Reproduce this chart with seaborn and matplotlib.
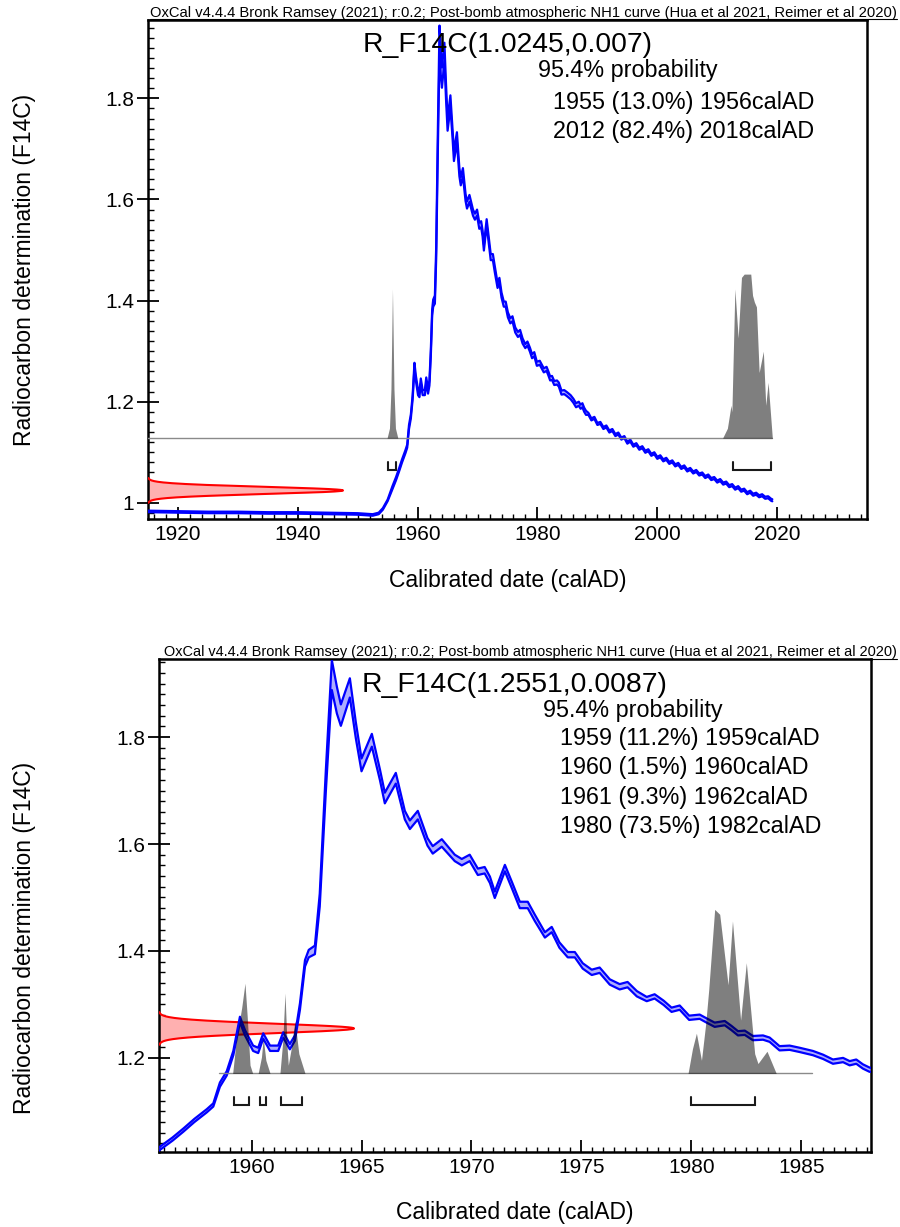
import numpy as np
import pandas as pd
import matplotlib
matplotlib.use("Agg")
import matplotlib.pyplot as plt
import matplotlib.transforms as mtransforms
from matplotlib.ticker import MultipleLocator, FuncFormatter
import seaborn as sns

# ---------------- data ----------------
# calibration curve (Post-bomb NH1), segments
seg_a_year = [1915.0, 1920.0, 1925.0, 1930.0, 1935.0, 1940.0, 1945.0, 1950.0, 1952.5, 1953.5, 1954.2, 1955.0]
seg_a_f14c = [0.983, 0.982, 0.981, 0.981, 0.980, 0.980, 0.979, 0.978, 0.976, 0.979, 0.988, 1.005]
seg_a_sig = [0.0015] * 12

seg_b_year = [1955.8, 1956.4, 1956.9, 1957.4, 1957.96, 1958.26, 1958.56, 1958.87, 1959.17, 1959.47, 1959.7,
              1960.07, 1960.3, 1960.53, 1960.84, 1961.21, 1961.44, 1961.74, 1961.97, 1962.2, 1962.43, 1962.6, 1962.88]
seg_b_f14c = [1.030, 1.048, 1.065, 1.083, 1.101, 1.112, 1.150, 1.171, 1.209, 1.272, 1.247,
              1.218, 1.214, 1.241, 1.218, 1.218, 1.243, 1.221, 1.237, 1.296, 1.377, 1.395, 1.402]
seg_b_sig = [0.003, 0.003, 0.003, 0.003, 0.003, 0.003, 0.004, 0.004, 0.004, 0.005, 0.005,
             0.005, 0.005, 0.005, 0.005, 0.005, 0.005, 0.005, 0.005, 0.006, 0.006, 0.007, 0.008]

seg_c_year = [1963.1, 1963.38, 1963.65, 1963.88, 1964.06, 1964.47, 1964.74, 1965.0, 1965.47, 1965.84,
              1966.06, 1966.56, 1966.97, 1967.2, 1967.56, 1968.0, 1968.24, 1968.65]
seg_c_f14c = [1.495, 1.720, 1.916, 1.869, 1.841, 1.892, 1.813, 1.748, 1.794, 1.729,
              1.686, 1.723, 1.654, 1.636, 1.654, 1.604, 1.589, 1.602]
seg_c_sig = [0.012, 0.020, 0.028, 0.025, 0.020, 0.018, 0.015, 0.012, 0.012, 0.010,
             0.010, 0.010, 0.008, 0.008, 0.008, 0.007, 0.007, 0.007]

seg_d_year = [1969.24, 1969.56, 1969.92, 1970.29, 1970.6, 1970.84, 1971.06, 1971.52, 1971.84, 1972.2,
              1972.56, 1972.88, 1973.34, 1973.65, 1974.0, 1974.38, 1974.7, 1975.06, 1975.47, 1975.83,
              1976.29, 1976.74, 1977.1, 1977.52, 1977.97, 1978.33, 1978.74, 1979.1, 1979.47, 1979.9,
              1980.38, 1980.69, 1981.06, 1981.52, 1981.82, 1982.12, 1982.43, 1982.8, 1983.26, 1983.56,
              1984.01, 1984.47, 1984.92, 1985.53, 1985.99, 1986.44, 1986.9, 1987.2, 1987.5, 1987.8, 1988.1]
seg_d_f14c = [1.574, 1.566, 1.574, 1.548, 1.551, 1.533, 1.505, 1.555, 1.523, 1.486,
              1.486, 1.462, 1.430, 1.440, 1.411, 1.393, 1.393, 1.372, 1.360, 1.364,
              1.342, 1.333, 1.337, 1.320, 1.310, 1.315, 1.303, 1.290, 1.294, 1.275,
              1.277, 1.270, 1.262, 1.265, 1.256, 1.246, 1.247, 1.237, 1.238, 1.234,
              1.218, 1.219, 1.215, 1.209, 1.202, 1.193, 1.196, 1.190, 1.193, 1.184, 1.178]
seg_d_sig = [0.006] * 12 + [0.005] * 12 + [0.004] * 27

seg_e_year = [1988.5, 1989.0, 1989.5, 1990.0, 1990.5, 1991.0, 1991.5, 1992.0, 1992.5, 1993.0,
              1993.5, 1994.0, 1994.5, 1995.0, 1995.5, 1996.0, 1996.5, 1997.0, 1997.5, 1998.0,
              1998.5, 1999.0, 1999.5, 2000.0, 2000.5, 2001.0, 2001.5, 2002.0, 2002.5, 2003.0,
              2003.5, 2004.0, 2004.5, 2005.0, 2005.5, 2006.0, 2006.5, 2007.0, 2007.5, 2008.0,
              2008.5, 2009.0, 2009.5, 2010.0, 2010.5, 2011.0, 2011.5, 2012.0, 2012.5, 2013.0,
              2013.5, 2014.0, 2014.5, 2015.0, 2015.5, 2016.0, 2016.5, 2017.0, 2017.5, 2018.0,
              2018.5, 2019.0, 2019.2]
seg_e_f14c = [1.176, 1.165, 1.168, 1.156, 1.158, 1.148, 1.151, 1.141, 1.144, 1.134,
              1.137, 1.127, 1.130, 1.119, 1.123, 1.113, 1.116, 1.107, 1.110, 1.101,
              1.104, 1.095, 1.098, 1.089, 1.092, 1.084, 1.087, 1.079, 1.082, 1.074,
              1.077, 1.069, 1.072, 1.064, 1.067, 1.060, 1.063, 1.056, 1.058, 1.051,
              1.054, 1.047, 1.049, 1.042, 1.045, 1.038, 1.040, 1.033, 1.035, 1.028,
              1.031, 1.024, 1.026, 1.019, 1.022, 1.016, 1.018, 1.013, 1.015, 1.010,
              1.011, 1.006, 1.005]
seg_e_sig = [0.002] * 63

# panel 1 (sample R_F14C(1.0245,0.007))
meas1_mean, meas1_sd = 1.0245, 0.007
title1 = "R_F14C(1.0245,0.007)"
ranges1 = ["1955 (13.0%) 1956calAD", "2012 (82.4%) 2018calAD"]
dist1a_year = [1954.9, 1955.3, 1955.55, 1955.8, 1956.05, 1956.3, 1956.7]
dist1a_prob = [0, 0.06, 0.3, 0.91, 0.3, 0.06, 0]
dist1b_year = [2010.9, 2011.7, 2012.3, 2012.45, 2012.95, 2013.5, 2014.05, 2014.5, 2015.05, 2015.6,
               2015.9, 2016.2, 2016.55, 2017.0, 2017.7, 2018.1, 2018.5, 2019.2]
dist1b_prob = [0, 0.06, 0.2, 0.16, 0.91, 0.61, 0.98, 1.0, 1.0, 1.0,
               0.87, 0.83, 0.8, 0.4, 0.53, 0.2, 0.34, 0]
brackets1 = [(1955.0, 1956.4), (2012.6, 2018.9)]
base1 = 1.128
base1_range = (1900.0, 2019.2)

# panel 2 (sample R_F14C(1.2551,0.0087))
meas2_mean, meas2_sd = 1.2551, 0.0087
title2 = "R_F14C(1.2551,0.0087)"
ranges2 = ["1959 (11.2%) 1959calAD", "1960 (1.5%) 1960calAD",
           "1961 (9.3%) 1962calAD", "1980 (73.5%) 1982calAD"]
dist2a_year = [1959.14, 1959.3, 1959.55, 1959.7, 1959.8, 1959.93, 1960.05, 1960.3, 1960.45, 1960.53,
               1960.65, 1960.84, 1961.29, 1961.42, 1961.52, 1961.62, 1961.67, 1961.8, 1961.97, 1962.15, 1962.43]
dist2a_prob = [0, 0.2, 0.4, 0.55, 0.35, 0.05, 0.0, 0.0, 0.1, 0.215,
               0.08, 0.0, 0.0, 0.2, 0.49, 0.15, 0.05, 0.15, 0.32, 0.12, 0]
dist2b_year = [1979.85, 1980.05, 1980.23, 1980.46, 1980.65, 1980.79, 1981.06, 1981.29, 1981.67, 1981.87,
               1982.24, 1982.5, 1982.88, 1983.03, 1983.44, 1983.86]
dist2b_prob = [0, 0.15, 0.245, 0.08, 0.3, 0.51, 1.0, 0.97, 0.54, 0.93,
               0.325, 0.675, 0.12, 0.06, 0.135, 0]
brackets2 = [(1959.2, 1959.9), (1960.38, 1960.65), (1961.32, 1962.28), (1979.97, 1982.91)]
base2 = 1.171
base2_range = (1958.5, 1985.5)

header = ("OxCal v4.4.4 Bronk Ramsey (2021); r:0.2; Post-bomb atmospheric NH1 curve "
          "(Hua et al 2021, Reimer et al 2020)")
prob_label = "95.4% probability"
xlabel = "Calibrated date (calAD)"
ylabel = "Radiocarbon determination (F14C)"

# ---------------- build curve table ----------------
curve_year = seg_a_year + seg_b_year + seg_c_year + seg_d_year + seg_e_year
curve_f14c = seg_a_f14c + seg_b_f14c + seg_c_f14c + seg_d_f14c + seg_e_f14c
curve_sig = seg_a_sig + seg_b_sig + seg_c_sig + seg_d_sig + seg_e_sig
curve = pd.DataFrame({"year": curve_year, "f14c": curve_f14c, "sig": curve_sig})
curve["upper"] = curve["f14c"] + curve["sig"]
curve["lower"] = curve["f14c"] - curve["sig"]

# ---------------- style ----------------
sns.set_theme(style="ticks")
plt.rcParams["font.family"] = ["Liberation Sans", "DejaVu Sans"]

W, H = 900, 1227
fig = plt.figure(figsize=(W / 100, H / 100), dpi=100)
fig.patch.set_facecolor("white")


def px(x, y):
    return x / W, 1 - y / H


def add_axes_px(left, top, right, bottom):
    return fig.add_axes([left / W, 1 - bottom / H, (right - left) / W, (bottom - top) / H])


def draw_panel(ax, box, xlim, ylim, xmaj, xmin_, mean, sd, dists, brackets, base, base_range,
               title, ranges, txt, header_size):
    left, top, right, bottom = box
    ax.set_xlim(*xlim)
    ax.set_ylim(*ylim)
    ppu = (bottom - top) / (ylim[1] - ylim[0])  # pixels per F14C unit

    # measurement (red, sideways normal)
    yy = np.linspace(mean - 3.5 * sd, mean + 3.5 * sd, 400)
    pdf = np.exp(-0.5 * ((yy - mean) / sd) ** 2)
    tr = mtransforms.blended_transform_factory(ax.transAxes, ax.transData)
    frac = 195.0 / (right - left)
    ax.fill_betweenx(yy, 0, pdf * frac, transform=tr, color="#FFB0B0", lw=0, zorder=2)
    ax.plot(pdf * frac, yy, transform=tr, color="#FF0000", lw=1.5, zorder=3)

    # calibration curve band
    ax.fill_between(curve["year"], curve["lower"], curve["upper"], color="#6A6AFF",
                    alpha=0.55, lw=0, zorder=4)
    sns.lineplot(data=curve, x="year", y="upper", ax=ax, color="#0000FF", lw=1.6,
                 estimator=None, sort=False, zorder=5)
    sns.lineplot(data=curve, x="year", y="lower", ax=ax, color="#0000FF", lw=1.6,
                 estimator=None, sort=False, zorder=5)

    # probability distribution
    h = 164.0 / ppu
    ax.plot(base_range, [base, base], color="#8A8A8A", lw=1.0, zorder=6)
    for yrs, pr in dists:
        pr = np.asarray(pr)
        ax.fill_between(yrs, base, base + pr * h, color="black", alpha=0.5, lw=0, zorder=7)

    # range brackets
    yb = base - 32.0 / ppu
    yt = base - 24.0 / ppu
    for a, b in brackets:
        ax.plot([a, a, b, b], [yt, yb, yb, yt], color="#1A1A1A", lw=1.5, zorder=8,
                solid_joinstyle="miter")

    # axes style
    for s in ax.spines.values():
        s.set_color("black")
        s.set_linewidth(1.8)
    ax.xaxis.set_major_locator(MultipleLocator(xmaj))
    ax.xaxis.set_minor_locator(MultipleLocator(xmin_))
    ax.yaxis.set_major_locator(MultipleLocator(0.2))
    ax.yaxis.set_minor_locator(MultipleLocator(0.02))
    ax.yaxis.set_major_formatter(FuncFormatter(lambda v, p: f"{v:g}"))
    ax.xaxis.set_major_formatter(FuncFormatter(lambda v, p: f"{v:g}"))
    ax.tick_params(axis="x", which="major", direction="in", length=8.6, width=1.3,
                   labelsize=15, pad=4, colors="black", bottom=True, top=False)
    ax.tick_params(axis="x", which="minor", direction="in", length=3.8, width=1.0,
                   bottom=True, top=False, colors="black")
    ax.tick_params(axis="y", which="major", direction="inout", length=15.5, width=1.3,
                   labelsize=15, pad=2, colors="black", left=True, right=False)
    ax.tick_params(axis="y", which="minor", direction="in", length=4.3, width=1.0,
                   left=True, right=False, colors="black")
    ax.set_xlabel("")
    ax.set_ylabel("")
    ax.set_facecolor("white")

    # texts
    (hx, hy), (tx, ty), (px_, py_), (rx, ry0, rdy), (ylx, yly), (xlx, xly) = txt
    t = fig.text(*px(hx, hy), header, fontsize=header_size, ha="right", va="baseline",
                 color="black")
    fig.canvas.draw()
    bb = t.get_window_extent()
    fig.add_artist(plt.Line2D([bb.x0 / W, bb.x1 / W], [1 - (hy + 2.5) / H] * 2,
                              transform=fig.transFigure, color="black", lw=0.8))
    fig.text(*px(tx, ty), title, fontsize=20.4, ha="center", va="baseline", color="black")
    fig.text(*px(px_, py_), prob_label, fontsize=16.8, ha="left", va="baseline", color="black")
    for i, r in enumerate(ranges):
        fig.text(*px(rx, ry0 + i * rdy), r, fontsize=16.8, ha="left", va="baseline", color="black")
    fig.text(*px(ylx, yly), ylabel, fontsize=16.5, rotation=90, ha="center", va="center",
             color="black")
    fig.text(*px(xlx, xly), xlabel, fontsize=16.5, ha="center", va="center", color="black")


box1 = (148, 20, 867, 519)
box2 = (159, 659, 871, 1152)
ax1 = add_axes_px(*box1)
ax2 = add_axes_px(*box2)

draw_panel(ax1, box1, (1915.0, 2035.0), (0.968, 1.955), 20, 2, meas1_mean, meas1_sd,
           [(dist1a_year, dist1a_prob), (dist1b_year, dist1b_prob)], brackets1, base1, base1_range,
           title1, ranges1,
           [(897, 16.5), (508, 52), (538, 77), (553, 109, 29), (25, 270), (507.5, 580)], 10.65)
draw_panel(ax2, box2, (1955.79, 1988.17), (1.024, 1.946), 5, 0.5, meas2_mean, meas2_sd,
           [(dist2a_year, dist2a_prob), (dist2b_year, dist2b_prob)], brackets2, base2, base2_range,
           title2, ranges2,
           [(897, 656), (515, 692), (543, 717), (560, 745, 29.3), (25, 938), (515, 1213)], 10.45)

fig.savefig("out.png", dpi=100, facecolor="white")
